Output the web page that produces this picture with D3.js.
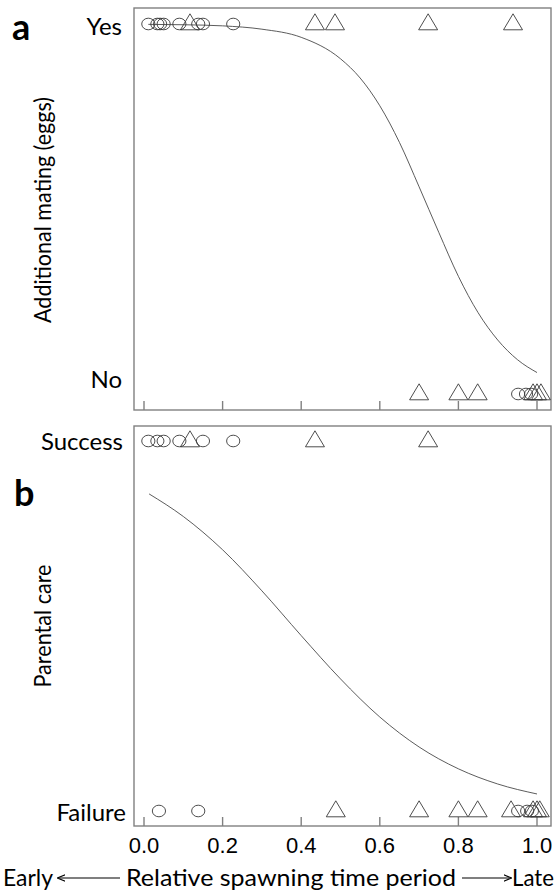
<!DOCTYPE html>
<html lang="en">
<head>
  <meta charset="UTF-8">
  <title>Spawning time logistic plots</title>
  <script src="https://d3js.org/d3.v7.min.js"></script>
  <style>
    body { margin: 0; background: #fff; }
    svg { display: block; background: #fff; }
    .frame { fill: none; stroke: #808080; stroke-width: 1.4px; }
    .tick { stroke: #808080; stroke-width: 1.4px; }
    .mark { fill: none; stroke: #3a3a3a; stroke-width: 0.9px; }
    .fit { fill: none; stroke: #4a4a4a; stroke-width: 0.9px; }
    .lbl { font-family: Lato, "Open Sans", sans-serif; fill: #000; }
    .num { font-family: "Liberation Sans", Arial, sans-serif; fill: #000; }
  </style>
</head>
<body>
  <svg width="556" height="890"></svg>

  <script>
    // x ticks
    const xTicks = [0, 0.2, 0.4, 0.6, 0.8, 1.0];

    // panel a: additional mating (1 = Yes, 0 = No)
    const aYesCircles = [0.011, 0.034, 0.041, 0.05, 0.09, 0.138, 0.15, 0.227];
    const aYesTriangles = [0.117, 0.435, 0.486, 0.723, 0.939];
    const aNoCircles = [0.952, 0.972, 0.985];
    const aNoTriangles = [0.70, 0.80, 0.849, 0.99, 1.0, 1.01];
    const aCurveX = [0.011, 0.1, 0.2, 0.3, 0.4, 0.5, 0.55, 0.6, 0.65, 0.7, 0.75, 0.8, 0.85, 0.9, 0.95, 1.0];
    const aCurveP = [0.999, 0.998, 0.995, 0.986, 0.964, 0.906, 0.854, 0.779, 0.68, 0.56, 0.437, 0.318, 0.22, 0.146, 0.093, 0.058];

    // panel b: parental care (1 = Success, 0 = Failure)
    const bSuccessCircles = [0.011, 0.034, 0.05, 0.09, 0.15, 0.227];
    const bSuccessTriangles = [0.117, 0.435, 0.723];
    const bFailureCircles = [0.038, 0.138, 0.952, 0.975, 0.987];
    const bFailureTriangles = [0.488, 0.70, 0.80, 0.849, 0.934, 0.99, 1.0, 1.007];
    const bCurveX = [0.013, 0.1, 0.2, 0.3, 0.4, 0.5, 0.6, 0.7, 0.8, 0.9, 1.0];
    const bCurveP = [0.857, 0.796, 0.706, 0.595, 0.474, 0.357, 0.254, 0.173, 0.114, 0.073, 0.046];

    const svg = d3.select('svg');
    const x = d3.scaleLinear().domain([0, 1]).range([144, 537]);

    function panel(cfg) {
      const y = d3.scaleLinear().domain([0, 1]).range([cfg.y0, cfg.y1]);
      const g = svg.append('g');

      g.append('rect').attr('class', 'frame')
        .attr('x', 134).attr('y', cfg.top)
        .attr('width', 417).attr('height', cfg.bottom - cfg.top);

      // inward ticks along the bottom edge
      g.selectAll('line.tick').data(xTicks).join('line')
        .attr('class', 'tick')
        .attr('x1', d => x(d)).attr('x2', d => x(d))
        .attr('y1', cfg.bottom).attr('y2', cfg.bottom - 9);

      const line = d3.line()
        .x(d => x(d[0])).y(d => y(d[1]))
        .curve(d3.curveMonotoneX);
      g.append('path').attr('class', 'fit')
        .attr('d', line(d3.zip(cfg.curveX, cfg.curveP)));

      const circles = cfg.c1.map(v => [v, 1]).concat(cfg.c0.map(v => [v, 0]));
      const tris = cfg.t1.map(v => [v, 1]).concat(cfg.t0.map(v => [v, 0]));

      g.selectAll('ellipse').data(circles).join('ellipse')
        .attr('class', 'mark')
        .attr('cx', d => x(d[0])).attr('cy', d => y(d[1]))
        .attr('rx', 6.6).attr('ry', 5.8);

      g.selectAll('path.tri').data(tris).join('path')
        .attr('class', 'mark tri')
        .attr('d', d => {
          const cx = x(d[0]), cy = y(d[1]);
          return `M${cx - 9.5},${cy + 5.8}L${cx + 9.5},${cy + 5.8}L${cx},${cy - 10.2}Z`;
        });

      g.append('text').attr('class', 'lbl')
        .attr('x', cfg.tx1).attr('y', cfg.ly1).attr('text-anchor', 'end')
        .attr('font-size', 24).attr('dominant-baseline', 'central')
        .text(cfg.l1);
      g.append('text').attr('class', 'lbl')
        .attr('x', cfg.tx0).attr('y', cfg.ly0).attr('text-anchor', 'end')
        .attr('font-size', 24).attr('dominant-baseline', 'central')
        .text(cfg.l0);

      g.append('text').attr('class', 'lbl')
        .attr('transform', `translate(${cfg.titleX},${cfg.titleY}) rotate(-90)`)
        .attr('text-anchor', 'middle').attr('font-size', 23)
        .attr('textLength', cfg.titleLen).attr('lengthAdjust', 'spacingAndGlyphs')
        .text(cfg.title);

      g.append('text').attr('class', 'lbl')
        .attr('x', cfg.letterX).attr('y', cfg.letterY)
        .attr('font-size', 36).attr('font-weight', 'bold')
        .text(cfg.letter);
    }

    panel({
      top: 8, bottom: 410, y0: 394, y1: 24,
      curveX: aCurveX, curveP: aCurveP,
      c1: aYesCircles, c0: aNoCircles, t1: aYesTriangles, t0: aNoTriangles,
      l1: 'Yes', l0: 'No', tx1: 122, tx0: 122, ly1: 25, ly0: 378,
      title: 'Additional mating (eggs)', titleLen: 226, titleX: 51, titleY: 210,
      letter: 'a', letterX: 12, letterY: 40
    });

    panel({
      top: 426, bottom: 826, y0: 811, y1: 441,
      curveX: bCurveX, curveP: bCurveP,
      c1: bSuccessCircles, c0: bFailureCircles, t1: bSuccessTriangles, t0: bFailureTriangles,
      l1: 'Success', l0: 'Failure', tx1: 123, tx0: 126, ly1: 440, ly0: 811,
      title: 'Parental care', titleLen: 123, titleX: 51, titleY: 626,
      letter: 'b', letterX: 14, letterY: 506
    });

    // x tick labels under panel b
    svg.selectAll('text.num').data(xTicks).join('text')
      .attr('class', 'num')
      .attr('x', d => x(d)).attr('y', 853)
      .attr('text-anchor', 'middle').attr('font-size', 22)
      .text(d => d3.format('.1f')(d));

    // bottom caption with arrows
    const defs = svg.append('defs');
    defs.append('marker').attr('id', 'ah')
      .attr('viewBox', '0 0 10 10').attr('refX', 9).attr('refY', 5)
      .attr('markerWidth', 8).attr('markerHeight', 8).attr('orient', 'auto-start-reverse')
      .attr('markerUnits', 'userSpaceOnUse')
      .append('path').attr('d', 'M0,1L10,5L0,9').attr('fill', 'none')
      .attr('stroke', '#000').attr('stroke-width', 1.4);

    svg.append('text').attr('class', 'lbl').attr('x', 3).attr('y', 886)
      .attr('font-size', 24).attr('textLength', 50).attr('lengthAdjust', 'spacingAndGlyphs')
      .text('Early');
    svg.append('line').attr('x1', 120).attr('x2', 58).attr('y1', 878).attr('y2', 878)
      .attr('stroke', '#000').attr('stroke-width', 1.2).attr('marker-end', 'url(#ah)');
    svg.append('text').attr('class', 'lbl').attr('x', 126).attr('y', 886)
      .attr('font-size', 24).attr('textLength', 330).attr('lengthAdjust', 'spacingAndGlyphs')
      .text('Relative spawning time period');
    svg.append('line').attr('x1', 462).attr('x2', 511).attr('y1', 878).attr('y2', 878)
      .attr('stroke', '#000').attr('stroke-width', 1.2).attr('marker-end', 'url(#ah)');
    svg.append('text').attr('class', 'lbl').attr('x', 512).attr('y', 886)
      .attr('font-size', 24).attr('textLength', 42).attr('lengthAdjust', 'spacingAndGlyphs')
      .text('Late');
  </script>
</body>
</html>
